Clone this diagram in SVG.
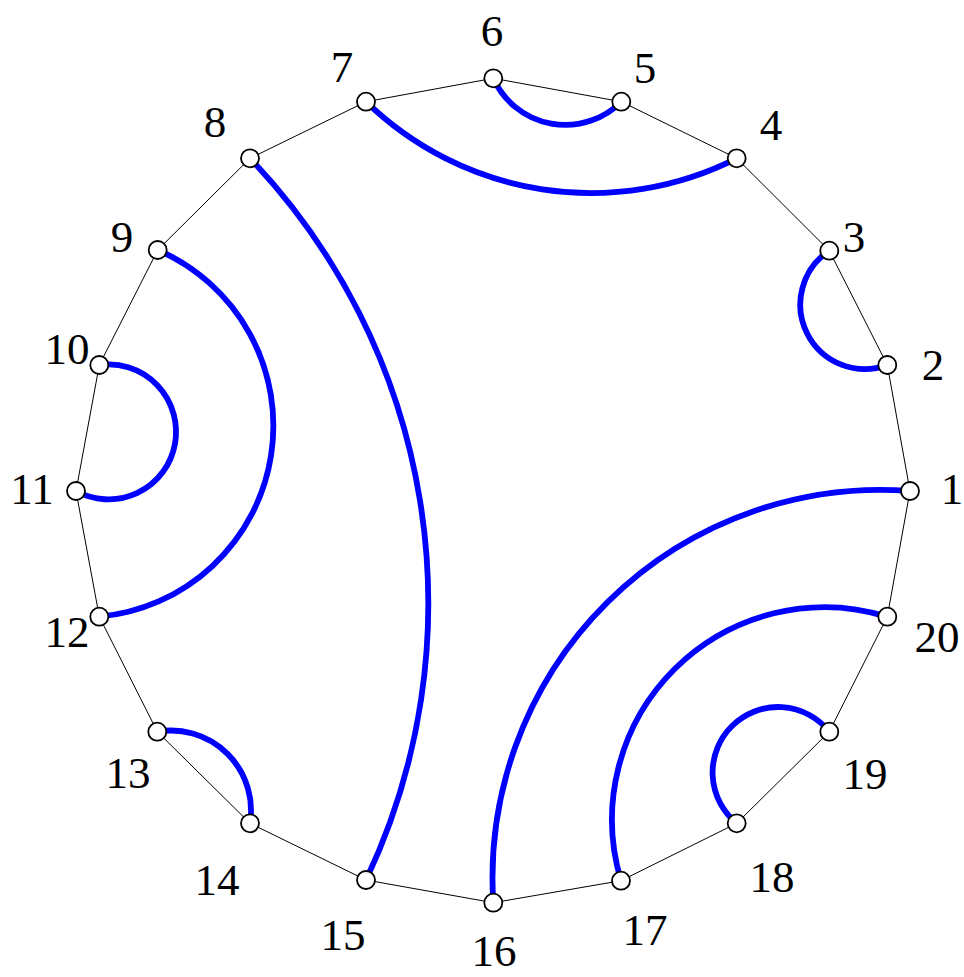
<svg xmlns="http://www.w3.org/2000/svg" width="964" height="977" viewBox="0 0 964 977">
<style>
.edge{fill:none;stroke:#000;stroke-width:1}
.arc{fill:none;stroke:#0000ff;stroke-width:5.8}
.node{fill:#fff;stroke:#000;stroke-width:1.8}
.lbl{font-family:"Liberation Serif","Times New Roman",serif;font-size:45px;fill:#000;text-anchor:middle}
</style>
<rect width="964" height="977" fill="#fff"/>
<g id="connectors">
<polygon class="edge" points="910,491 887.3,365 829.3,250.7 736.7,158.3 621.3,101.7 493.3,78.3 366,101.7 250,158.3 157.7,250 99.3,365 76,491 99.3,616.7 157.3,731.7 250,823.3 366,880 493.3,902.7 621,880.7 736.7,823.3 829.3,731.7 887.3,616.7"/>
<path class="arc" d="M99.3,365 A67.5,67.5 0 1 1 76,491"/>
<path class="arc" d="M829.3,250.7 A64.5,64.5 0 0 0 887.3,365"/>
<path class="arc" d="M493.3,78.3 A79,79 0 0 0 621.3,101.7"/>
<path class="arc" d="M366,101.7 A323,323 0 0 0 736.7,158.3"/>
<path class="arc" d="M250,158.3 A645,645 0 0 1 366,880"/>
<path class="arc" d="M157.7,250 A191.6,191.6 0 0 1 99.3,616.7"/>
<path class="arc" d="M157.3,731.7 A80,80 0 0 1 250,823.3"/>
<path class="arc" d="M910,491 A388,388 0 0 0 493.3,902.7"/>
<path class="arc" d="M887.3,616.7 A212.4,212.4 0 0 0 621,880.7"/>
<path class="arc" d="M829.3,731.7 A65.5,65.5 0 1 0 736.7,823.3"/>
</g>
<g id="n1"><circle class="node" cx="910" cy="491" r="9"/><text class="lbl" x="952" y="504">1</text></g>
<g id="n2"><circle class="node" cx="887.3" cy="365" r="9"/><text class="lbl" x="933" y="380">2</text></g>
<g id="n3"><circle class="node" cx="829.3" cy="250.7" r="9"/><text class="lbl" x="854" y="252">3</text></g>
<g id="n4"><circle class="node" cx="736.7" cy="158.3" r="9"/><text class="lbl" x="771" y="140">4</text></g>
<g id="n5"><circle class="node" cx="621.3" cy="101.7" r="9"/><text class="lbl" x="645" y="83">5</text></g>
<g id="n6"><circle class="node" cx="493.3" cy="78.3" r="9"/><text class="lbl" x="492" y="46">6</text></g>
<g id="n7"><circle class="node" cx="366" cy="101.7" r="9"/><text class="lbl" x="342" y="82">7</text></g>
<g id="n8"><circle class="node" cx="250" cy="158.3" r="9"/><text class="lbl" x="215" y="137">8</text></g>
<g id="n9"><circle class="node" cx="157.7" cy="250" r="9"/><text class="lbl" x="122" y="252">9</text></g>
<g id="n10"><circle class="node" cx="99.3" cy="365" r="9"/><text class="lbl" x="67" y="364">10</text></g>
<g id="n11"><circle class="node" cx="76" cy="491" r="9"/><text class="lbl" x="32" y="504">11</text></g>
<g id="n12"><circle class="node" cx="99.3" cy="616.7" r="9"/><text class="lbl" x="67" y="647">12</text></g>
<g id="n13"><circle class="node" cx="157.3" cy="731.7" r="9"/><text class="lbl" x="128" y="788">13</text></g>
<g id="n14"><circle class="node" cx="250" cy="823.3" r="9"/><text class="lbl" x="217" y="895">14</text></g>
<g id="n15"><circle class="node" cx="366" cy="880" r="9"/><text class="lbl" x="343" y="950">15</text></g>
<g id="n16"><circle class="node" cx="493.3" cy="902.7" r="9"/><text class="lbl" x="494" y="966">16</text></g>
<g id="n17"><circle class="node" cx="621" cy="880.7" r="9"/><text class="lbl" x="645" y="945">17</text></g>
<g id="n18"><circle class="node" cx="736.7" cy="823.3" r="9"/><text class="lbl" x="772" y="892">18</text></g>
<g id="n19"><circle class="node" cx="829.3" cy="731.7" r="9"/><text class="lbl" x="865" y="789">19</text></g>
<g id="n20"><circle class="node" cx="887.3" cy="616.7" r="9"/><text class="lbl" x="937" y="652">20</text></g>
</svg>
